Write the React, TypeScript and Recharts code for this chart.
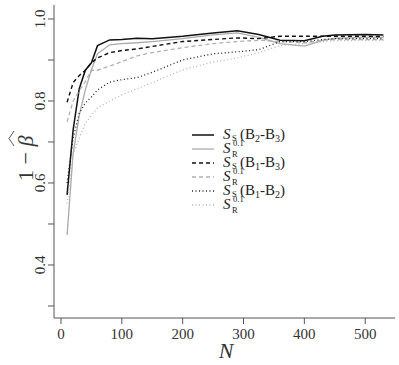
import React from 'react';
import { LineChart, Line, XAxis, YAxis } from 'recharts';

const nValues = [10, 20, 30, 40, 50, 60, 80, 100, 125, 150, 200, 250, 290, 325, 360, 400, 430, 450, 500, 530];
const ssB2B3 = [0.571, 0.73, 0.83, 0.875, 0.893, 0.935, 0.949, 0.95, 0.953, 0.952, 0.958, 0.966, 0.971, 0.962, 0.948, 0.947, 0.958, 0.961, 0.962, 0.961];
const srB2B3 = [0.473, 0.673, 0.765, 0.827, 0.876, 0.915, 0.937, 0.94, 0.942, 0.945, 0.952, 0.961, 0.966, 0.955, 0.94, 0.934, 0.948, 0.953, 0.955, 0.955];
const ssB1B3 = [0.797, 0.845, 0.862, 0.875, 0.893, 0.905, 0.918, 0.923, 0.927, 0.933, 0.945, 0.95, 0.954, 0.952, 0.958, 0.958, 0.958, 0.958, 0.958, 0.957];
const srB1B3 = [0.749, 0.8, 0.825, 0.847, 0.875, 0.875, 0.885, 0.896, 0.91, 0.918, 0.93, 0.94, 0.945, 0.948, 0.945, 0.942, 0.948, 0.95, 0.95, 0.95];
const ssB1B2 = [0.6, 0.71, 0.77, 0.795, 0.81, 0.827, 0.846, 0.852, 0.857, 0.87, 0.9, 0.915, 0.92, 0.925, 0.945, 0.945, 0.95, 0.952, 0.952, 0.952];
const srB1B2 = [0.55, 0.67, 0.71, 0.745, 0.765, 0.783, 0.8, 0.815, 0.83, 0.845, 0.876, 0.895, 0.905, 0.918, 0.935, 0.94, 0.945, 0.947, 0.948, 0.948];

const xTicks = [0, 100, 200, 300, 400, 500];
const yTicks = [0.3, 0.4, 0.5, 0.6, 0.7, 0.8, 0.9, 1.0];
const yLabeled = [0.4, 0.6, 0.8, 1.0];

const seriesKeys = ['ssB2B3', 'srB2B3', 'ssB1B3', 'srB1B3', 'ssB1B2', 'srB1B2'];
const pairDigits = [['2', '3'], ['1', '3'], ['1', '2']];

const data = nValues.map((n, i) => ({
  n,
  ssB2B3: ssB2B3[i],
  srB2B3: srB2B3[i],
  ssB1B3: ssB1B3[i],
  srB1B3: srB1B3[i],
  ssB1B2: ssB1B2[i],
  srB1B2: srB1B2[i],
}));

const styles: Record<string, { stroke: string; width: number; dash?: string }> = {
  ssB2B3: { stroke: '#111', width: 1.5 },
  srB2B3: { stroke: '#aaa', width: 1.3 },
  ssB1B3: { stroke: '#111', width: 1.4, dash: '4 3' },
  srB1B3: { stroke: '#b0b0b0', width: 1.3, dash: '4 3' },
  ssB1B2: { stroke: '#222', width: 1.3, dash: '1 2.5' },
  srB1B2: { stroke: '#b5b5b5', width: 1.3, dash: '1 2.5' },
};

const FONT = '"Liberation Serif", "DejaVu Serif", serif';
const AXIS = '#555';

const YTick = (props: any) => {
  const { y, payload } = props;
  const v = payload.value;
  if (!yLabeled.some((l) => Math.abs(l - v) < 1e-6)) return <g />;
  return (
    <text
      x={45}
      y={y}
      transform={`rotate(-90 45 ${y})`}
      textAnchor="middle"
      style={{ fontSize: 15, fontFamily: FONT, fill: '#333' }}
    >
      {v.toFixed(1)}
    </text>
  );
};

const LegendOverlay = () => {
  const baselines = [139, 153, 167, 181, 195, 209];
  return (
    <g style={{ fontFamily: FONT, fill: '#222' }}>
      {seriesKeys.map((k, i) => {
        const s = styles[k];
        const b = baselines[i];
        return (
          <line
            key={'l' + k}
            x1={192}
            x2={214}
            y1={b - 4}
            y2={b - 4}
            stroke={s.stroke}
            strokeWidth={s.width}
            strokeDasharray={s.dash}
          />
        );
      })}
      {baselines.map((b, i) => {
        const isS = i % 2 === 0;
        const pi = Math.floor(i / 2);
        if (isS) {
          return (
            <g key={'t' + i}>
              <text x={223} y={b} style={{ fontSize: 15, fontStyle: 'italic' }}>S</text>
              <text x={232} y={b + 2} style={{ fontSize: 8.5 }}>S</text>
              <text x={240} y={b} style={{ fontSize: 15 }}>
                <tspan>(B</tspan>
                <tspan dy={3} style={{ fontSize: 10 }}>{pairDigits[pi][0]}</tspan>
                <tspan dy={-3}>-B</tspan>
                <tspan dy={3} style={{ fontSize: 10 }}>{pairDigits[pi][1]}</tspan>
                <tspan dy={-3}>)</tspan>
              </text>
            </g>
          );
        }
        return (
          <g key={'t' + i}>
            <text x={223} y={b} style={{ fontSize: 15, fontStyle: 'italic' }}>S</text>
            <text x={232} y={b + 4} style={{ fontSize: 8.5 }}>R</text>
            <text x={233} y={b - 7} style={{ fontSize: 8.5 }}>0.1</text>
          </g>
        );
      })}
      <g transform="translate(33 157) rotate(-90)">
        <text x={-24} y={0} style={{ fontSize: 22, fill: '#333' }}>
          <tspan>1 − </tspan>
          <tspan style={{ fontStyle: 'italic' }}>β</tspan>
        </text>
        <path d="M 11 -19 L 18.5 -24 L 26 -19" fill="none" stroke="#444" strokeWidth={0.9} />
      </g>
      <text x={226} y={358} textAnchor="middle" style={{ fontSize: 22, fontStyle: 'italic', fill: '#333' }}>
        N
      </text>
    </g>
  );
};

export default function App() {
  return (
    <div style={{ position: 'absolute', left: 0, top: 0, width: 399, height: 365, background: '#fff' }}>
      <LineChart
        width={399}
        height={365}
        data={data}
        margin={{ top: 5, right: 4, left: 0, bottom: 0 }}
      >
        <XAxis
          dataKey="n"
          type="number"
          domain={[-11.5, 549]}
          ticks={xTicks}
          height={47}
          tickSize={6}
          tickMargin={4}
          stroke={AXIS}
          axisLine={{ stroke: AXIS }}
          tickLine={{ stroke: AXIS }}
          tick={{ fontSize: 15, fontFamily: FONT, fill: '#333' }}
          allowDataOverflow
        />
        <YAxis
          type="number"
          domain={[0.2707, 1.0341]}
          ticks={yTicks}
          width={54}
          tickSize={6}
          axisLine={{ stroke: AXIS }}
          tickLine={{ stroke: AXIS }}
          tick={<YTick />}
          allowDataOverflow
        />
        <YAxis
          yAxisId="right"
          orientation="right"
          width={0}
          tick={false}
          tickLine={false}
          axisLine={{ stroke: AXIS }}
        />
        {seriesKeys.map((k) => (
          <Line
            key={k}
            dataKey={k}
            type="linear"
            dot={false}
            stroke={styles[k].stroke}
            strokeWidth={styles[k].width}
            strokeDasharray={styles[k].dash}
            isAnimationActive={false}
          />
        ))}
      </LineChart>
      <svg
        width={399}
        height={365}
        style={{ position: 'absolute', left: 0, top: 0, pointerEvents: 'none' }}
      >
        <LegendOverlay />
      </svg>
    </div>
  );
}
